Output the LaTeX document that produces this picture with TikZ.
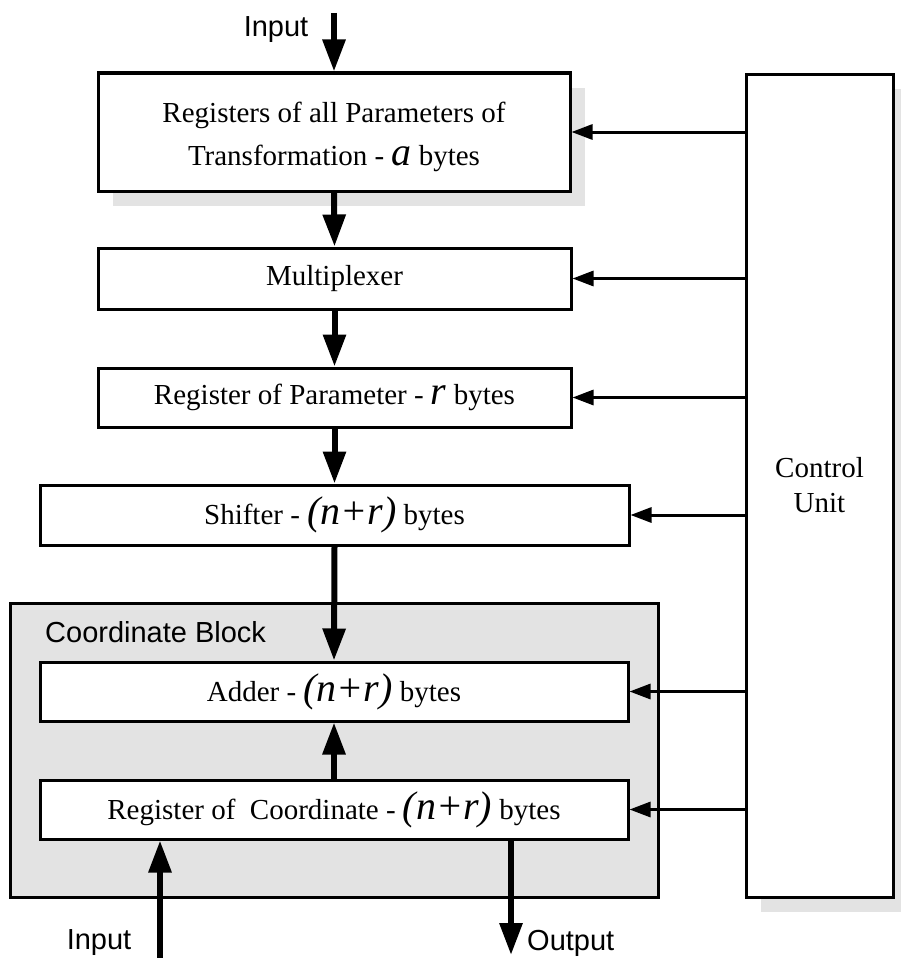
\documentclass[tikz,border=0pt]{standalone}
\usepackage{fontspec}
\setmainfont{Liberation Serif}
\setsansfont{Liberation Sans}
\usetikzlibrary{arrows.meta,shadows}
\definecolor{panelgray}{HTML}{E3E3E3}
\newcommand\bigit[1]{{\fontsize{40}{40}\selectfont\itshape #1}}
\begin{document}
\begin{tikzpicture}[x=1pt,y=-1pt,
  blk/.style={draw, line width=3pt, fill=white, inner sep=0pt, align=center,
    font=\fontsize{29}{43}\selectfont},
  shadowed/.style={drop shadow={shadow xshift=15pt, shadow yshift=-15pt,
    opacity=1, fill=panelgray}},
  flow/.style={line width=6pt, -{Triangle[length=32pt,width=22pt]}},
  ctrl/.style={line width=3pt, -{Triangle[length=21pt,width=15pt]}},
  lbl/.style={font=\sffamily\fontsize{29}{35}\selectfont, inner sep=0pt},
]
\useasboundingbox (0,0) rectangle (901,958);

% control unit on the right
\node[blk, shadowed, minimum width=147pt, minimum height=823pt,
  font=\fontsize{29}{35}\selectfont] (cu) at (819.5,485.5) {Control\\Unit};

% coordinate block panel
\node[draw, line width=3pt, fill=panelgray, minimum width=648pt,
  minimum height=294pt, inner sep=0pt] (cblock) at (334,750) {};
\node[lbl, anchor=west] (cbtitle) at (45,632) {Coordinate Block};

% processing chain
\node[blk, shadowed, minimum width=472pt, minimum height=118pt] (params) at (334,132)
  {\rule{0pt}{30pt}Registers of all Parameters of\\Transformation - \bigit{a} bytes};
\node[blk, minimum width=473pt, minimum height=61pt] (mux) at (334.5,278.5) {Multiplexer};
\node[blk, minimum width=473pt, minimum height=59pt] (rpar) at (334.5,397.5)
  {Register of Parameter - \bigit{r} bytes};
\node[blk, minimum width=589pt, minimum height=60pt] (shift) at (334.5,515)
  {Shifter - \bigit{(n+r)} bytes};
\node[blk, minimum width=588pt, minimum height=59pt] (adder) at (334,691.5)
  {Adder - \bigit{(n+r)} bytes};
\node[blk, minimum width=588pt, minimum height=59pt] (rcoord) at (334,809.5)
  {Register of\ \ Coordinate - \bigit{(n+r)} bytes};

% external inputs and output
\coordinate (topin) at (334,13);
\coordinate (botin) at (160,958);
\coordinate (botout) at (511,955);
\node[lbl] (intop) at (276,30) {Input};
\node[lbl] (inbot) at (99,943) {Input};
\node[lbl, anchor=west] (outlbl) at (527,943) {Output};

% data flow
\draw[flow] (topin) -- (params.north);
\draw[flow] (params.south) -- (mux.north);
\draw[flow] (mux.south) -- (rpar.north);
\draw[flow] (rpar.south) -- (shift.north);
\draw[flow] (shift.south) -- (adder.north);
\draw[flow] (rcoord.north) -- (adder.south);
\draw[flow] (botin) -- (rcoord.south -| botin);
\draw[flow] (rcoord.south -| botout) -- (botout);

% control lines
\foreach \b in {params,mux,rpar,shift,adder,rcoord}
  \draw[ctrl] (cu.west |- \b.east) -- (\b.east);
\end{tikzpicture}
\end{document}
